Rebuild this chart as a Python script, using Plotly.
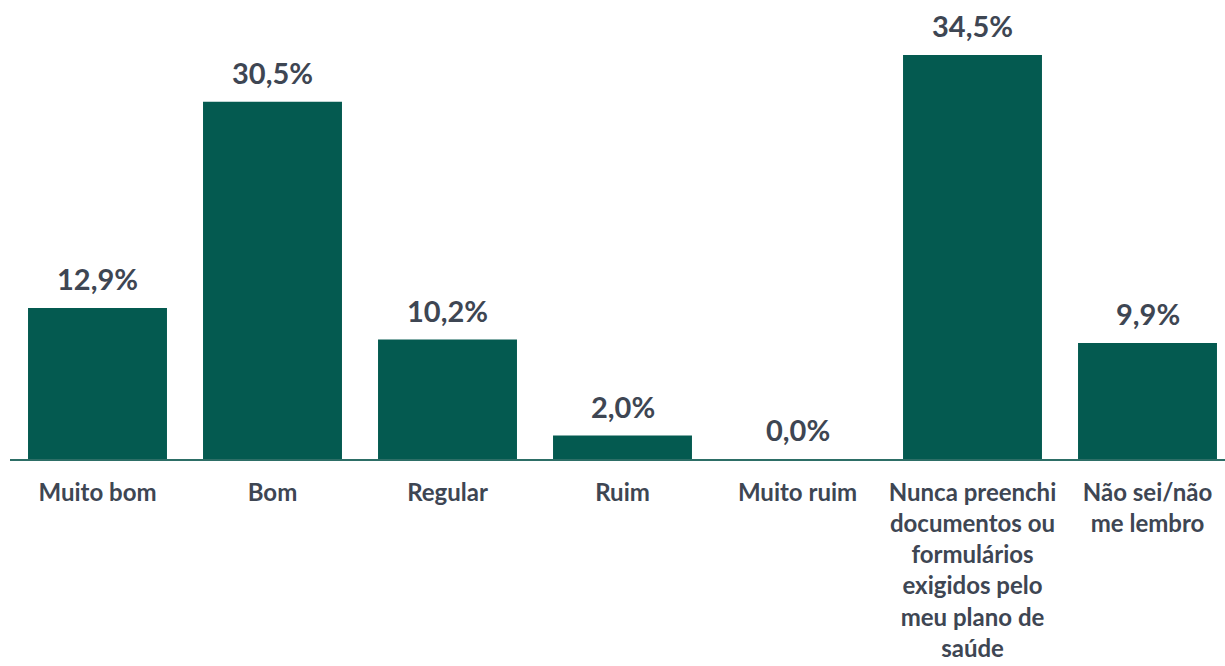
import plotly.graph_objects as go

# Survey answers and their share of respondents (%)
categories = [
    "Muito bom",
    "Bom",
    "Regular",
    "Ruim",
    "Muito ruim",
    "Nunca preenchi<br>documentos ou<br>formulários<br>exigidos pelo<br>meu plano de<br>saúde",
    "Não sei/não<br>me lembro",
]
values = [12.9, 30.5, 10.2, 2.0, 0.0, 34.5, 9.9]

BAR_COLOR = "#045a50"
TEXT_COLOR = "#3e4653"
FONT = "Lato"


def pct(v):
    return f"{v:.1f}".replace(".", ",") + "%"


x_idx = list(range(len(categories)))

fig = go.Figure(
    go.Bar(
        x=x_idx,
        y=values,
        marker=dict(color=BAR_COLOR, line=dict(width=0)),
        width=0.794,
        hoverinfo="skip",
    )
)

# Value labels sitting above each bar
for i, v in zip(x_idx, values):
    fig.add_annotation(
        x=i, y=v, text=f"<b>{pct(v)}</b>", showarrow=False,
        yanchor="bottom", yshift=10,
        font=dict(family=FONT, size=29, color=TEXT_COLOR),
    )

fig.update_layout(
    width=1225, height=666,
    margin=dict(l=10, r=0, t=0, b=207, autoexpand=False),
    plot_bgcolor="white", paper_bgcolor="white",
    showlegend=False,
    font=dict(family=FONT, color=TEXT_COLOR),
    xaxis=dict(
        tickmode="array", tickvals=x_idx,
        ticktext=[f"<b>{c}</b>" for c in categories],
        tickfont=dict(family=FONT, size=24, color=TEXT_COLOR),
        range=[-0.5, 6.5 - 10 / 175],
        showline=True, linecolor="#2d6e66", linewidth=2,
        ticks="outside", ticklen=11, tickcolor="rgba(0,0,0,0)",
        automargin=False,
        showgrid=False, zeroline=False, fixedrange=True,
    ),
    yaxis=dict(
        range=[0, 459 / 11.71],
        visible=False, showgrid=False, zeroline=False, fixedrange=True,
    ),
)

fig.write_html("out.html")
